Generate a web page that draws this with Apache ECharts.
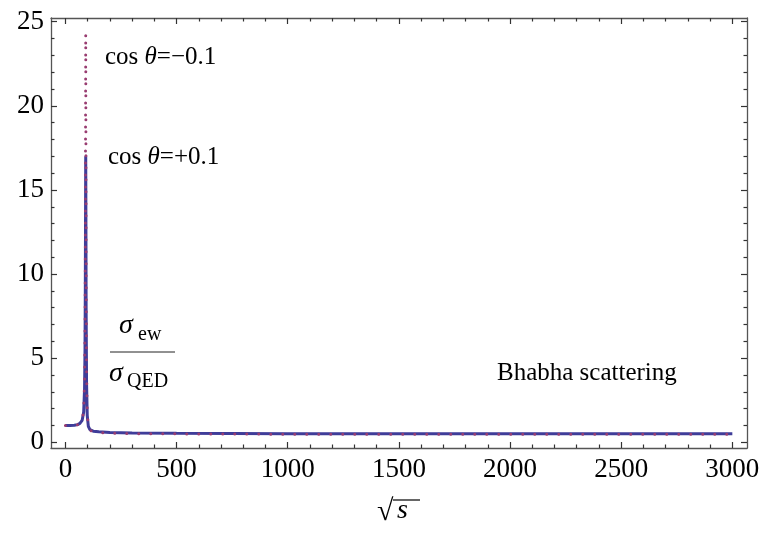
<!DOCTYPE html>
<html>
<head>
<meta charset="UTF-8">
<title>Bhabha scattering</title>
<script src="https://cdn.jsdelivr.net/npm/echarts@6/dist/echarts.min.js"></script>
<style>
  body { margin: 0; background: #fff; }
  #main { width: 767px; height: 533px; }
</style>
</head>
<body>
<div id="main"></div>
<script type="text/javascript">
// sqrt(s) sample points (GeV), dense around the Z pole
var sqrtS = [0, 20, 40, 55, 65, 75, 82, 86, 88, 89.5, 90.5, 91.2, 92, 93, 95, 98, 103, 110, 125, 150, 200, 300, 500, 750, 1000, 1500, 2000, 2500, 3000];
// sigma_ew / sigma_QED, cos theta = +0.1 (solid)
var ratioPlus = [1.00, 1.00, 1.01, 1.05, 1.12, 1.3, 1.8, 3.2, 5.5, 9.5, 14, 17.0, 13.5, 8.0, 3.5, 1.6, 0.95, 0.75, 0.66, 0.62, 0.58, 0.55, 0.53, 0.52, 0.51, 0.51, 0.50, 0.50, 0.50];
// cos theta = -0.1 (dotted)
var ratioMinus = [1.00, 1.00, 1.01, 1.05, 1.12, 1.3, 1.9, 3.8, 7.0, 12.5, 19.5, 24.3, 18.5, 10, 4.2, 1.7, 0.95, 0.72, 0.62, 0.58, 0.54, 0.51, 0.50, 0.49, 0.48, 0.48, 0.48, 0.48, 0.48];

var xMajor = [0, 500, 1000, 1500, 2000, 2500, 3000];
var yMajor = [0, 5, 10, 15, 20, 25];

var xMinor = [];
for (var i = 100; i < 3000; i += 100) if (i % 500 !== 0) xMinor.push(i);
var yMinor = [];
for (var j = 1; j < 25; j++) if (j % 5 !== 0) yMinor.push(j);

var serif = '"Liberation Serif", "DejaVu Serif", serif';
var frameColor = '#555';

// one side of the frame: either major ticks (+labels) or minor ticks
function axis(pos, ticks, len, line, labels) {
  var horiz = (pos === 'bottom' || pos === 'top');
  return {
    type: 'value',
    position: pos,
    min: horiz ? -65 : -0.34,
    max: horiz ? 3066 : 25.22,
    axisLine: { show: line, onZero: false, lineStyle: { color: frameColor, width: 1.3 } },
    axisTick: { show: true, inside: true, length: len, customValues: ticks,
                lineStyle: { color: '#333', width: 1.2 } },
    axisLabel: labels ? { show: true, customValues: ticks, fontFamily: serif, fontSize: 27,
                          color: '#000', margin: horiz ? 8 : 7,
                          formatter: function (v) { return String(v); } } : { show: false },
    splitLine: { show: false }
  };
}

function pairs(ys) {
  return sqrtS.map(function (x, k) { return [x, ys[k]]; });
}

var option = {
  animation: false,
  backgroundColor: '#fff',
  grid: { left: 51, right: 20, top: 18, bottom: 85, containLabel: false },
  xAxis: [
    axis('bottom', xMajor, 6, true, true),
    axis('bottom', xMinor, 3.5, false, false),
    axis('top', xMajor, 6, true, false),
    axis('top', xMinor, 3.5, false, false)
  ],
  yAxis: [
    axis('left', yMajor, 6, true, true),
    axis('left', yMinor, 3.5, false, false),
    axis('right', yMajor, 6, true, false),
    axis('right', yMinor, 3.5, false, false)
  ],
  series: [
    {
      name: 'cos θ=+0.1', type: 'line', xAxisIndex: 0, yAxisIndex: 0,
      data: pairs(ratioPlus), showSymbol: false,
      lineStyle: { color: '#3f3d99', width: 3 }
    },
    {
      name: 'cos θ=−0.1', type: 'line', xAxisIndex: 0, yAxisIndex: 0,
      data: pairs(ratioMinus), showSymbol: false,
      lineStyle: { color: '#993d71', width: 3, type: [0, 12], cap: 'round' }
    }
  ],
  graphic: [
    { type: 'text', x: 105, y: 57, style: { text: '{a|cos }{b|θ}{a|=−0.1}', verticalAlign: 'middle',
      rich: { a: { fontFamily: serif, fontSize: 25, fill: '#000' }, b: { fontFamily: serif, fontSize: 25, fontStyle: 'italic', fill: '#000' } } } },
    { type: 'text', x: 108, y: 157, style: { text: '{a|cos }{b|θ}{a|=+0.1}', verticalAlign: 'middle',
      rich: { a: { fontFamily: serif, fontSize: 25, fill: '#000' }, b: { fontFamily: serif, fontSize: 25, fontStyle: 'italic', fill: '#000' } } } },
    // sigma_ew / sigma_QED
    { type: 'text', x: 119, y: 340, style: { text: 'σ', font: 'italic 28px ' + serif, fill: '#000', verticalAlign: 'bottom' } },
    { type: 'text', x: 138, y: 345, style: { text: 'ew', font: '20px ' + serif, fill: '#000', verticalAlign: 'bottom' } },
    { type: 'line', shape: { x1: 110, y1: 352, x2: 175, y2: 352 }, style: { stroke: '#222', lineWidth: 1 } },
    { type: 'text', x: 109, y: 388, style: { text: 'σ', font: 'italic 28px ' + serif, fill: '#000', verticalAlign: 'bottom' } },
    { type: 'text', x: 127, y: 392, style: { text: 'QED', font: '20px ' + serif, fill: '#000', verticalAlign: 'bottom' } },
    { type: 'text', x: 497, y: 373, style: { text: 'Bhabha scattering', font: '25px ' + serif, fill: '#000', verticalAlign: 'middle' } },
    // sqrt(s)
    { type: 'text', x: 377, y: 527, style: { text: '√', font: '30px ' + serif, fill: '#000', verticalAlign: 'bottom' } },
    { type: 'line', shape: { x1: 393, y1: 500, x2: 420, y2: 500 }, style: { stroke: '#000', lineWidth: 1.2 } },
    { type: 'text', x: 397, y: 525, style: { text: 's', font: 'italic 28px ' + serif, fill: '#000', verticalAlign: 'bottom' } }
  ]
};

echarts.init(document.getElementById('main')).setOption(option);
</script>
</body>
</html>
